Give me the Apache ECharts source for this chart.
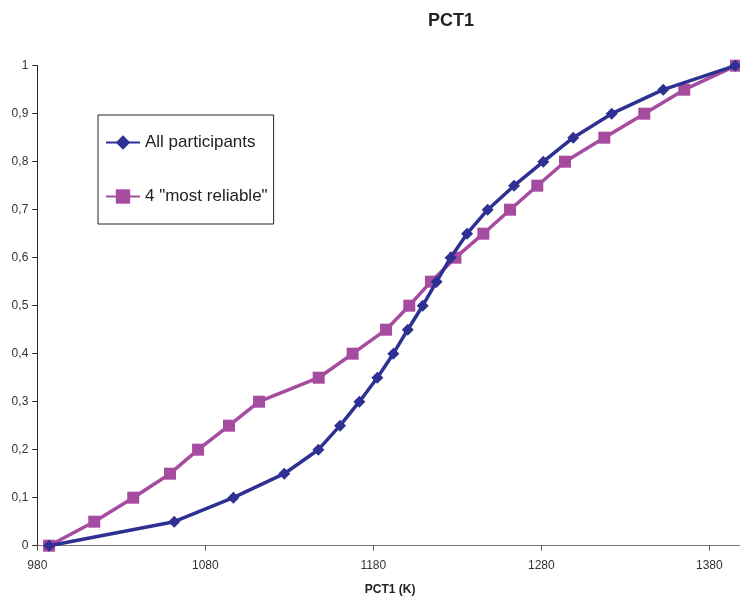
<!DOCTYPE html>
<html>
<head>
<meta charset="utf-8">
<script src="https://cdn.jsdelivr.net/npm/echarts@6/dist/echarts.min.js"></script>
<style>html,body{margin:0;padding:0;background:#fff}#c{width:740px;height:597px}</style>
</head>
<body>
<div id="c"></div>
<script>
const cumulative = [0,0.05,0.1,0.15,0.2,0.25,0.3,0.35,0.4,0.45,0.5,0.55,0.6,0.65,0.7,0.75,0.8,0.85,0.9,0.95,1];
const allParticipantsX = [987,1061.5,1096.7,1127,1147.3,1160.2,1171.7,1182.4,1191.9,1200.5,1209.4,1217.7,1226,1235.8,1248.1,1263.8,1281.2,1299,1321.9,1352.6,1395.5];
const mostReliableX = [987,1013.9,1037.1,1059,1075.7,1094.1,1112,1147.5,1167.7,1187.6,1201.4,1214.3,1228.9,1245.5,1261.4,1277.6,1294.1,1317.5,1341.3,1365.1,1395.9];
const seriesNames = ['All participants', '4 "most reliable"'];
const xTicks = [980,1080,1180,1280,1380];

const font = '"Liberation Sans", Arial, sans-serif';
const chart = echarts.init(document.getElementById('c'), null, {renderer:'canvas'});
chart.setOption({
  animation:false,
  backgroundColor:'#fff',
  title:{text:'PCT1', left:423, top:7, textStyle:{fontFamily:font, fontSize:18, fontWeight:'bold', color:'#222'}},
  legend:{
    orient:'vertical', left:98, top:115,
    borderColor:'#222', borderWidth:1, padding:[19,6,19,7],
    itemGap:37, itemWidth:34, itemHeight:18,
    textStyle:{fontFamily:font, fontSize:17, color:'#222'},
    data:seriesNames
  },
  grid:{left:37.3, right:-2.9, top:65.7, bottom:51.3, containLabel:false, outerBoundsMode:'none'},
  xAxis:{
    type:'value', min:980, max:1400, interval:100,
    axisLine:{show:true, lineStyle:{color:'#777', width:1}},
    axisTick:{show:true, length:5, lineStyle:{color:'#555'}},
    splitLine:{show:false},
    axisLabel:{fontFamily:font, fontSize:12, color:'#333', margin:14,
      formatter:v => xTicks.includes(v) ? String(v) : ''},
    name:'PCT1 (K)', nameLocation:'middle', nameGap:38,
    nameTextStyle:{fontFamily:font, fontSize:12, fontWeight:'bold', color:'#222'}
  },
  yAxis:{
    type:'value', min:0, max:1, interval:0.1,
    axisLine:{show:true, lineStyle:{color:'#222', width:1}},
    axisTick:{show:true, length:5, lineStyle:{color:'#222'}},
    splitLine:{show:false},
    axisLabel:{fontFamily:font, fontSize:12, color:'#333', margin:9,
      formatter:v => (Math.round(v*10)/10).toString().replace('.', ',')}
  },
  series:[
    {name:seriesNames[0], type:'line', data:allParticipantsX.map((x,i)=>[x,cumulative[i]]),
     symbol:'diamond', symbolSize:12, color:'#2E3192',
     lineStyle:{width:3.5, color:'#2E3192'}, itemStyle:{color:'#2E3192'}, z:3},
    {name:seriesNames[1], type:'line', data:mostReliableX.map((x,i)=>[x,cumulative[i]]),
     symbol:'rect', symbolSize:12, color:'#A64CA0',
     lineStyle:{width:3.5, color:'#A64CA0'}, itemStyle:{color:'#A64CA0'}, z:2}
  ]
});
</script>
</body>
</html>
